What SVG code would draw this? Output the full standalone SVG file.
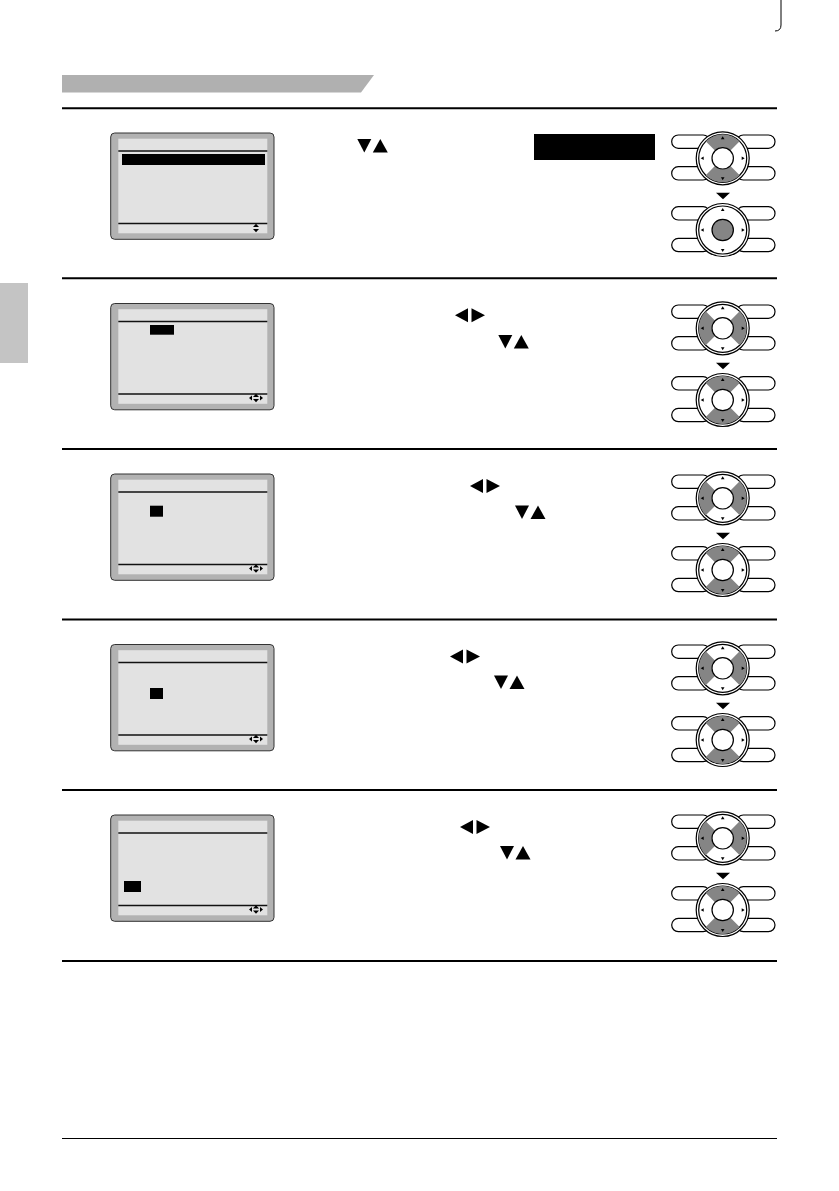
<svg xmlns="http://www.w3.org/2000/svg" xmlns:xlink="http://www.w3.org/1999/xlink" width="839" height="1191" viewBox="0 0 839 1191">
<style>
.rule{stroke:#000;stroke-width:2}
.thin{stroke:#000;stroke-width:1}
.scr-out{fill:#b2b2b2;stroke:#333;stroke-width:1}
.scr-in{fill:#e2e2e2}
.scr-line{stroke:#111;stroke-width:1.3}
.blk{fill:#000}
.cap{fill:#fff;stroke:#000;stroke-width:1.2}
.ring{fill:#fff;stroke:#000;stroke-width:1.2}
.wedge{fill:#858585}
.hub{fill:#fff;stroke:#000;stroke-width:1.2}
.hubsel{fill:#858585;stroke:#000;stroke-width:1.2}
</style>
<defs>
<g id="padbase">
<rect class="cap" x="-51" y="-23.3" width="38" height="13.3" rx="6.6"/>
<rect class="cap" x="-51" y="8.4" width="38" height="13.3" rx="6.6"/>
<rect class="cap" x="14" y="-23.3" width="38.3" height="13.3" rx="6.6"/>
<rect class="cap" x="14" y="8.4" width="38.3" height="13.3" rx="6.6"/>
<circle class="ring" r="26.5"/>
<circle class="ring" r="24"/>
</g>
<g id="marks">
<polygon points="0,-22 -1.8,-19 1.8,-19"/>
<polygon points="0,22 -1.8,19 1.8,19"/>
<polygon points="-22,0 -19,-1.8 -19,1.8"/>
<polygon points="22,0 19,-1.8 19,1.8"/>
</g>
<path id="wtb" class="wedge" d="M-16.97,-16.97 A24,24 0 0 1 16.97,-16.97 L7.78,-7.78 A11,11 0 0 0 -7.78,-7.78 Z M16.97,16.97 A24,24 0 0 1 -16.97,16.97 L-7.78,7.78 A11,11 0 0 0 7.78,7.78 Z"/>
<path id="wlr" class="wedge" d="M-16.97,16.97 A24,24 0 0 1 -16.97,-16.97 L-7.78,-7.78 A11,11 0 0 0 -7.78,7.78 Z M16.97,-16.97 A24,24 0 0 1 16.97,16.97 L7.78,7.78 A11,11 0 0 0 7.78,-7.78 Z"/>
<g id="pad-ud"><use xlink:href="#padbase"/><use xlink:href="#wtb"/><circle class="hub" r="10.7"/><use xlink:href="#marks"/></g>
<g id="pad-lr"><use xlink:href="#padbase"/><use xlink:href="#wlr"/><circle class="hub" r="10.7"/><use xlink:href="#marks"/></g>
<g id="pad-ok"><use xlink:href="#padbase"/><circle class="hubsel" r="10.7"/><use xlink:href="#marks"/></g>
<polygon id="down" points="-7,-3.3 7,-3.3 0,3.3"/>
<g id="screen">
<rect class="scr-out" x="110.7" y="0" width="163.3" height="106.3" rx="4"/>
<rect class="scr-in" x="118.3" y="5.7" width="149" height="94.6"/>
<line class="scr-line" x1="118.3" y1="18" x2="267.3" y2="18"/>
<line class="scr-line" x1="118.3" y1="90.5" x2="267.3" y2="90.5"/>
</g>
<g id="icon-ud">
<polygon points="256,-4.3 253,-1 259,-1"/>
<polygon points="256,4.3 253,1 259,1"/>
</g>
<g id="icon-all">
<use xlink:href="#icon-ud"/>
<polygon points="249,0 252,-2.6 252,2.6"/>
<polygon points="263,0 260,-2.6 260,2.6"/>
</g>
<g id="tri-ud">
<polygon points="0,0 14,0 7,13.5"/>
<polygon points="15.5,13.5 30.5,13.5 23,0"/>
</g>
<g id="tri-lr">
<polygon points="13,0 13,14 0,7"/>
<polygon points="16.5,0 16.5,14 30,7"/>
</g>
</defs>

<g id="page">
<path d="M781,0 V25 Q781,31 775,31" fill="none" stroke="#000" stroke-width="1"/>
<polygon points="62,75 374,75 361,92.5 62,92.5" fill="#b0b0b0"/>
<rect x="0" y="283" width="28" height="80" fill="#c4c4c4"/>
</g>

<g id="connectors">
<line class="rule" x1="62" y1="108.3" x2="777" y2="108.3"/>
<line class="rule" x1="62" y1="278.3" x2="777" y2="278.3"/>
<line class="rule" x1="62" y1="449" x2="777" y2="449"/>
<line class="rule" x1="62" y1="619.5" x2="777" y2="619.5"/>
<line class="rule" x1="62" y1="790" x2="777" y2="790"/>
<line class="rule" x1="62" y1="961" x2="777" y2="961"/>
<line class="thin" x1="62" y1="1138.5" x2="777" y2="1138.5"/>
</g>

<g id="step1">
<use xlink:href="#screen" y="133"/>
<rect class="blk" x="122" y="154" width="143" height="11"/>
<use xlink:href="#icon-ud" transform="translate(0,228)"/>
<use xlink:href="#tri-ud" transform="translate(357.3,139)"/>
<rect class="blk" x="534" y="134" width="121" height="26"/>
<use xlink:href="#pad-ud" transform="translate(722.7,158.3)"/>
<use xlink:href="#down" transform="translate(723,196)"/>
<use xlink:href="#pad-ok" transform="translate(722.7,230)"/>
</g>

<g id="step2">
<use xlink:href="#screen" y="303.5"/>
<rect class="blk" x="150" y="325" width="24" height="9.7"/>
<use xlink:href="#icon-all" transform="translate(0,398)"/>
<use xlink:href="#tri-lr" transform="translate(455,308.3)"/>
<use xlink:href="#tri-ud" transform="translate(498.3,335)"/>
<use xlink:href="#pad-lr" transform="translate(722.7,328.3)"/>
<use xlink:href="#down" transform="translate(723,366)"/>
<use xlink:href="#pad-ud" transform="translate(722.7,400)"/>
</g>

<g id="step3">
<use xlink:href="#screen" y="474"/>
<rect class="blk" x="150" y="505.7" width="13" height="11"/>
<use xlink:href="#icon-all" transform="translate(0,568.5)"/>
<use xlink:href="#tri-lr" transform="translate(470,479)"/>
<use xlink:href="#tri-ud" transform="translate(515,505.5)"/>
<use xlink:href="#pad-lr" transform="translate(722.7,498.3)"/>
<use xlink:href="#down" transform="translate(723,536)"/>
<use xlink:href="#pad-ud" transform="translate(722.7,570)"/>
</g>

<g id="step4">
<use xlink:href="#screen" y="644.5"/>
<rect class="blk" x="150" y="688" width="13" height="11"/>
<use xlink:href="#icon-all" transform="translate(0,739)"/>
<use xlink:href="#tri-lr" transform="translate(450,649.5)"/>
<use xlink:href="#tri-ud" transform="translate(494,675.5)"/>
<use xlink:href="#pad-lr" transform="translate(722.7,668.3)"/>
<use xlink:href="#down" transform="translate(723,706)"/>
<use xlink:href="#pad-ud" transform="translate(722.7,740)"/>
</g>

<g id="step5">
<use xlink:href="#screen" y="815"/>
<rect class="blk" x="124" y="881" width="17" height="11"/>
<use xlink:href="#icon-all" transform="translate(0,909.5)"/>
<use xlink:href="#tri-lr" transform="translate(460,820)"/>
<use xlink:href="#tri-ud" transform="translate(500,846)"/>
<use xlink:href="#pad-lr" transform="translate(722.7,838.3)"/>
<use xlink:href="#down" transform="translate(723,876)"/>
<use xlink:href="#pad-ud" transform="translate(722.7,910)"/>
</g>
</svg>
